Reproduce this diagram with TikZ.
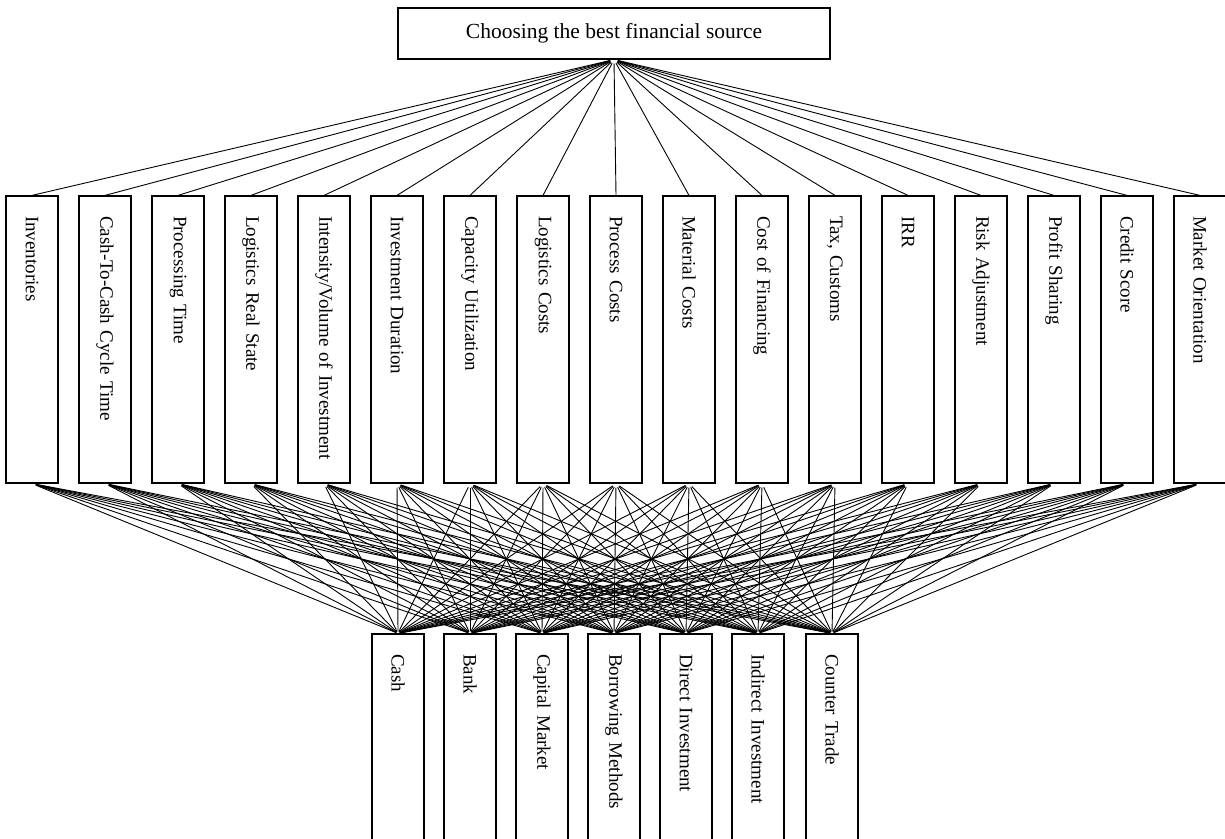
\documentclass[tikz,border=0pt]{standalone}
\usepackage{fontspec}
\setmainfont{Liberation Serif}
\usetikzlibrary{shapes,arrows,positioning,calc}

\begin{document}
\begin{tikzpicture}[x=1pt,y=-1pt]
  \tikzstyle{goal}=[rectangle, draw, line width=1.2pt, minimum width=432pt, minimum height=51pt, font=\fontsize{21.5}{24}\selectfont]
  \tikzstyle{crit}=[rectangle, draw, line width=1.2pt, rotate=-90, minimum height=52pt, text width=247pt, inner xsep=20pt, align=left, font=\fontsize{19}{22}\selectfont]
  \tikzstyle{link}=[line width=0.9pt]

  \useasboundingbox (0,0) rectangle (1225,838);

  \node[goal] (goal) at (614,33.5) {Choosing the best financial source};

  % criteria
  \node[crit] (c1) at (32,339.5) {Inventories};
  \node[crit] (c2) at (105,339.5) {Cash-To-Cash Cycle Time};
  \node[crit] (c3) at (178,339.5) {Processing Time};
  \node[crit] (c4) at (251,339.5) {Logistics Real State};
  \node[crit] (c5) at (324,339.5) {Intensity/Volume of Investment};
  \node[crit] (c6) at (397,339.5) {Investment Duration};
  \node[crit] (c7) at (470,339.5) {Capacity Utilization};
  \node[crit] (c8) at (543,339.5) {Logistics Costs};
  \node[crit] (c9) at (616,339.5) {Process Costs};
  \node[crit] (c10) at (689,339.5) {Material Costs};
  \node[crit] (c11) at (762,339.5) {Cost of Financing};
  \node[crit] (c12) at (835,339.5) {Tax, Customs};
  \node[crit] (c13) at (908,339.5) {IRR};
  \node[crit] (c14) at (981,339.5) {Risk Adjustment};
  \node[crit] (c15) at (1054,339.5) {Profit Sharing};
  \node[crit] (c16) at (1127,339.5) {Credit Score};
  \node[crit] (c17) at (1200,339.5) {Market Orientation};

  % financial sources
  \node[crit] (a1) at (398,777.5) {Cash};
  \node[crit] (a2) at (470,777.5) {Bank};
  \node[crit] (a3) at (542,777.5) {Capital Market};
  \node[crit] (a4) at (614,777.5) {Borrowing Methods};
  \node[crit] (a5) at (686,777.5) {Direct Investment};
  \node[crit] (a6) at (758,777.5) {Indirect Investment};
  \node[crit] (a7) at (832,777.5) {Counter Trade};

  \foreach \i in {1,...,17}
    \draw[link, shorten <=4pt] (goal.south) -- (c\i.west);
  \foreach \i in {1,...,17}
    \foreach \j in {1,...,7}
      \draw[link, shorten <=4pt, shorten >=2pt] (c\i.east) -- (a\j.west);
\end{tikzpicture}
\end{document}
